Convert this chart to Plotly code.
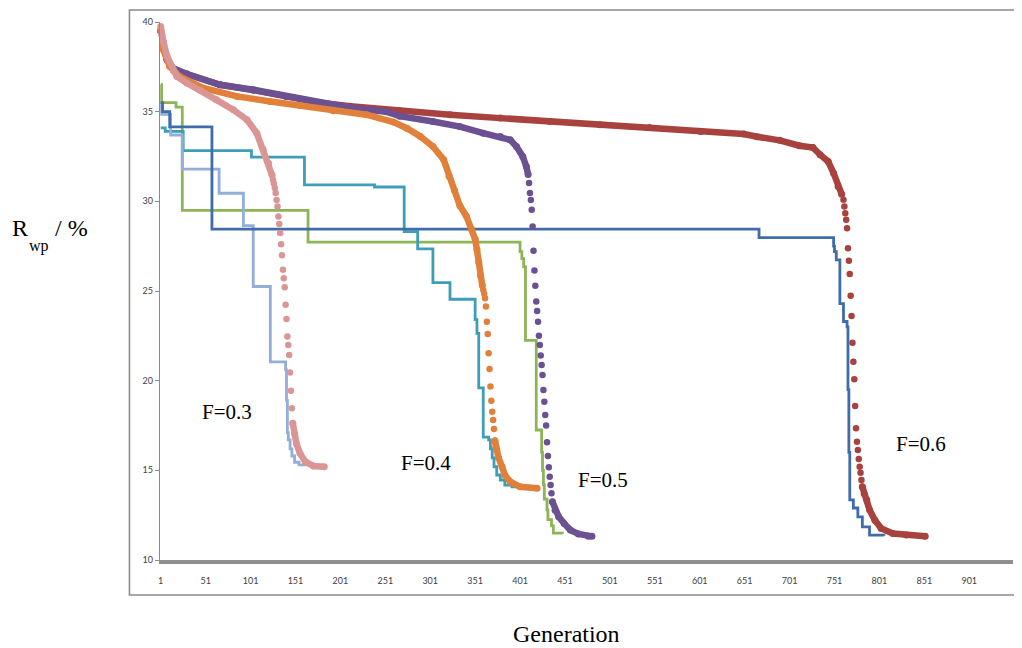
import plotly.graph_objects as go

# ---------------- data ----------------
# x tick labels (generation)
x_ticks = [1, 51, 101, 151, 201, 251, 301, 351, 401, 451, 501, 551, 601, 651, 701, 751, 801, 851, 901]
y_ticks = [10, 15, 20, 25, 30, 35, 40]

# F=0.3 : best-so-far step line (light blue)
lb_gen = [1, 2, 12, 25, 66, 93, 104, 123, 140, 141, 142, 143, 145, 147, 150, 155, 165]
lb_R = [35.5, 34.85, 33.7, 31.8, 30.45, 28.65, 25.25, 21.05, 20.6, 18.9, 17.1, 16.7, 16.2, 15.8, 15.45, 15.3, 15.25]

# F=0.4 : step line (teal)
tl_gen = [1, 6, 26, 102, 161, 239, 272, 287, 304, 323, 351, 353, 355, 360, 366, 368, 370, 372, 375, 379, 384, 392, 400]
tl_R = [34.1, 33.9, 32.83, 32.47, 30.92, 30.8, 28.31, 27.35, 25.47, 24.54, 23.4, 22.64, 19.6, 16.85, 16.7, 16.2, 15.7, 15.2, 14.74, 14.46, 14.18, 14.08, 14.05]

# F=0.5 : step line (green)
gr_gen = [1, 2, 18, 25, 165, 401, 403, 405, 407, 419, 425, 426, 427, 428, 431, 432, 436, 438, 448]
gr_R = [36.5, 35.5, 35.25, 29.5, 27.72, 27.2, 26.8, 26.35, 22.25, 17.25, 16.0, 15.0, 14.2, 13.4, 12.8, 12.25, 11.9, 11.5, 11.45]

# F=0.6 : step line (dark blue)
db_gen = [1, 3, 11, 58, 667, 750, 751, 753, 757, 761, 765, 766, 767, 768, 772, 777, 782, 790, 806]
db_R = [35.5, 35.0, 34.15, 28.45, 27.98, 27.5, 27.2, 26.74, 24.3, 23.3, 23.0, 19.5, 16.0, 13.35, 12.9, 12.4, 11.85, 11.39, 11.35]

# F=0.3 : population points (pink) - dense band, separated drop points, dense tail
pk_band_gen = [1, 2, 4, 8, 15, 19, 30, 45, 63, 82, 97, 108, 115, 121, 125]
pk_band_R = [39.75, 39.3, 38.9, 38.1, 37.3, 36.96, 36.6, 36.2, 35.66, 35.1, 34.55, 33.8, 32.9, 32.13, 31.45]
pk_dot_gen = list(range(126, 149))
pk_dot_R = [31.2, 31.0, 30.75, 30.46, 30.08, 29.71, 29.15, 28.74, 28.23, 27.6, 27.0, 26.18, 25.71,
            25.21, 24.23, 23.44, 22.46, 21.99, 21.43, 20.45, 19.44, 18.46, 17.63]
pk_tail_gen = [148, 150, 152, 156, 162, 171, 183]
pk_tail_R = [17.63, 17.06, 16.5, 15.95, 15.48, 15.24, 15.2]

# F=0.4 : population points (orange)
or_band_gen = [1, 4, 11, 22, 48, 86, 123, 156, 193, 230, 260, 275, 290, 304, 316, 322, 328, 334, 341, 347, 351, 353, 355, 357, 359]
or_band_R = [39.57, 38.45, 37.52, 36.96, 36.32, 35.85, 35.57, 35.35, 35.05, 34.83, 34.42, 34.08, 33.62, 33.06, 32.32,
             31.4, 30.6, 29.75, 29.2, 28.45, 27.9, 27.3, 26.6, 25.85, 25.3]
or_dot_gen = list(range(360, 374))
or_dot_R = [25.05, 24.85, 24.6, 24.13, 23.29, 22.6, 21.53, 20.65, 19.67, 18.88, 18.27, 17.8, 17.3, 16.65]
or_tail_gen = [373, 374, 375, 377, 381, 384, 390, 401, 420]
or_tail_R = [16.65, 16.32, 16.13, 15.7, 15.2, 14.74, 14.37, 14.08, 14.0]

# F=0.5 : population points (purple)
pu_band_gen = [1, 3, 8, 15, 30, 67, 104, 141, 178, 215, 252, 267, 304, 334, 360, 379, 390, 397, 404, 408, 410]
pu_band_R = [39.5, 38.8, 37.9, 37.4, 37.1, 36.5, 36.22, 35.85, 35.5, 35.2, 35.0, 34.75, 34.45, 34.17, 33.8, 33.62,
             33.43, 33.06, 32.5, 31.94, 31.5]
pu_dot_gen = list(range(411, 438))
pu_dot_R = [31.02, 30.46, 30.08, 29.53, 28.59, 27.24, 26.14, 25.29, 24.41, 23.89, 23.29, 22.5, 21.99, 21.4, 20.88,
            20.32, 19.48, 18.83, 18.09, 17.5, 16.56, 15.8, 15.17, 14.64, 14.18, 13.72, 13.25]
pu_tail_gen = [437, 440, 444, 450, 457, 466, 477, 481]
pu_tail_R = [13.25, 12.78, 12.41, 12.04, 11.67, 11.45, 11.33, 11.32]

# F=0.6 : population points (red)
rd_band_gen = [1, 3, 8, 15, 30, 67, 104, 141, 178, 212, 267, 323, 379, 434, 490, 545, 602, 650, 665, 690, 712,
               727, 735, 744, 750, 755, 759]
rd_band_R = [39.5, 38.8, 37.9, 37.4, 37.1, 36.5, 36.2, 35.85, 35.5, 35.3, 35.05, 34.83, 34.64, 34.45, 34.27, 34.12,
             33.9, 33.75, 33.6, 33.4, 33.1, 33.0, 32.6, 32.22, 31.57, 30.83, 30.4]
rd_dot_gen = list(range(761, 783))
rd_dot_R = [30.09, 29.71, 29.34, 28.97, 28.5, 27.39, 26.68, 25.95, 24.73, 23.61, 22.12, 21.06, 20.08, 18.59, 17.34,
            16.6, 16.13, 15.63, 15.2, 14.87, 14.46, 14.08]
rd_tail_gen = [782, 784, 787, 790, 796, 803, 816, 831, 852]
rd_tail_R = [14.08, 13.7, 13.34, 12.8, 12.22, 11.76, 11.48, 11.39, 11.33]

labels = ["F=0.3", "F=0.4", "F=0.5", "F=0.6"]

# ---------------- styles ----------------
C_LB, C_TL, C_GR, C_DB = "#93AED8", "#3E9EB8", "#8DB456", "#3F6DAA"
C_PK, C_OR, C_PU, C_RD = "#D99694", "#E0803A", "#6B5192", "#A8423F"

fig = go.Figure()

def step(x, y, c):
    fig.add_trace(go.Scatter(x=x, y=y, mode="lines", line=dict(color=c, width=2.8, shape="hv"),
                             showlegend=False, hoverinfo="skip", cliponaxis=False))

def dots(bx, by, dx, dy, tx, ty, c):
    for xx, yy in ((bx, by), (tx, ty)):
        fig.add_trace(go.Scatter(x=xx, y=yy, mode="lines+markers",
                                 line=dict(color=c, width=6.5), marker=dict(color=c, size=7),
                                 showlegend=False, hoverinfo="skip", cliponaxis=False))
    fig.add_trace(go.Scatter(x=dx, y=dy, mode="markers", marker=dict(color=c, size=6.5),
                             showlegend=False, hoverinfo="skip", cliponaxis=False))

step(gr_gen, gr_R, C_GR)
step(tl_gen, tl_R, C_TL)
step(lb_gen, lb_R, C_LB)
step(db_gen, db_R, C_DB)

dots(rd_band_gen, rd_band_R, rd_dot_gen, rd_dot_R, rd_tail_gen, rd_tail_R, C_RD)
dots(pu_band_gen, pu_band_R, pu_dot_gen, pu_dot_R, pu_tail_gen, pu_tail_R, C_PU)
dots(or_band_gen, or_band_R, or_dot_gen, or_dot_R, or_tail_gen, or_tail_R, C_OR)
dots(pk_band_gen, pk_band_R, pk_dot_gen, pk_dot_R, pk_tail_gen, pk_tail_R, C_PK)

serif = "Liberation Serif, Times New Roman, serif"
ann = []
for txt, (px, py) in zip(labels, [(0.0791, 0.2742), (0.3116, 0.1797), (0.5191, 0.1493), (0.8916, 0.2147)]):
    ann.append(dict(text=txt, x=px, y=py, xref="paper", yref="paper", showarrow=False,
                    xanchor="center", yanchor="middle", font=dict(family=serif, size=21, color="black")))
ann.append(dict(text="R", x=-0.1641, y=0.6177, xref="paper", yref="paper", showarrow=False,
                xanchor="center", yanchor="middle", font=dict(family=serif, size=24, color="black")))
ann.append(dict(text="wp", x=-0.1415, y=0.5844, xref="paper", yref="paper", showarrow=False,
                xanchor="center", yanchor="middle", font=dict(family=serif, size=16, color="black")))
ann.append(dict(text="/ %", x=-0.1035, y=0.6166, xref="paper", yref="paper", showarrow=False,
                xanchor="center", yanchor="middle", font=dict(family=serif, size=24, color="black")))
ann.append(dict(text="Generation", x=0.4771, y=-0.1375, xref="paper", yref="paper", showarrow=False,
                xanchor="center", yanchor="middle", font=dict(family=serif, size=24, color="black")))

tickfont = dict(family="Lato, Open Sans, sans-serif", size=9, color="#404040")

# the page body adds an 8px offset, so the figure is 8px smaller and margins are shifted
fig.update_layout(
    width=1014, height=640,
    margin=dict(l=152, r=9, t=14, b=88),
    paper_bgcolor="white", plot_bgcolor="white",
    annotations=ann,
    shapes=[dict(type="rect", xref="paper", yref="paper", x0=-0.0358, x1=1.02, y0=-0.065, y1=1.0223,
                 line=dict(color="#8c8c8c", width=1.6), layer="below")],
    xaxis=dict(range=[0.2, 949.7], tickvals=x_ticks, ticktext=[str(v) for v in x_ticks],
               showgrid=False, zeroline=False, showline=True, linecolor="#8f8f8f", linewidth=4,
               ticks="outside", ticklen=9, tickcolor="rgba(0,0,0,0)", tickfont=tickfont),
    yaxis=dict(range=[10, 40], tickvals=y_ticks, showgrid=False, zeroline=False, showline=True,
               linecolor="#8c8c8c", linewidth=1.3, ticks="outside", ticklen=4, tickcolor="#8c8c8c",
               tickfont=tickfont),
)

fig.write_html("out.html")
